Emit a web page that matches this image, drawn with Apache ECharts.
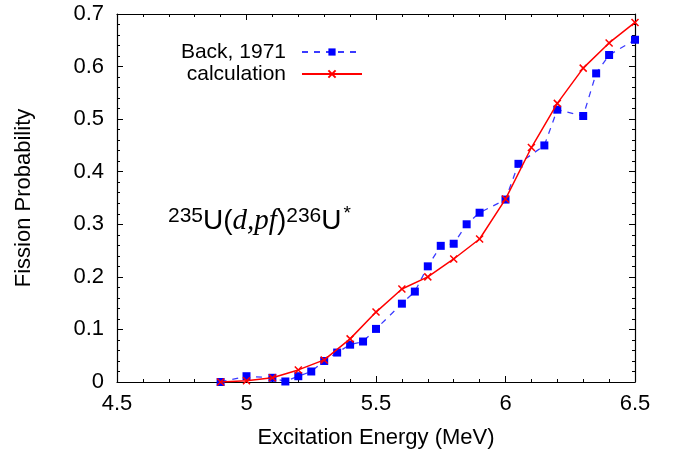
<!DOCTYPE html>
<html>
<head>
<meta charset="utf-8">
<script src="https://cdn.jsdelivr.net/npm/echarts@6/dist/echarts.min.js"></script>
<style>html,body{margin:0;padding:0;background:#fff}#c{width:678px;height:455px}</style>
</head>
<body>
<div id="c"></div>
<script>
// Back, 1971 (measured)
var backX = [4.9, 5.0, 5.1, 5.15, 5.2, 5.25, 5.3, 5.35, 5.4, 5.45, 5.5, 5.6, 5.65, 5.7, 5.75, 5.8, 5.85, 5.9, 6.0, 6.05, 6.15, 6.2, 6.3, 6.35, 6.4, 6.5];
var backY = [0.0, 0.011, 0.008, 0.001, 0.011, 0.020, 0.040, 0.056, 0.071, 0.077, 0.101, 0.149, 0.172, 0.220, 0.259, 0.263, 0.300, 0.322, 0.347, 0.415, 0.450, 0.518, 0.506, 0.587, 0.622, 0.651];
// calculation
var calcX = [4.9, 5.0, 5.1, 5.2, 5.3, 5.4, 5.5, 5.6, 5.7, 5.8, 5.9, 6.0, 6.1, 6.2, 6.3, 6.4, 6.5];
var calcY = [0.0, 0.0025, 0.008, 0.023, 0.042, 0.082, 0.133, 0.177, 0.200, 0.234, 0.272, 0.348, 0.446, 0.530, 0.597, 0.645, 0.684];

var xTicks = {min: 4.5, max: 6.5, interval: 0.5};
var yTicks = {min: 0, max: 0.7, interval: 0.1};

function pairs(xs, ys) { return xs.map(function (x, i) { return [x, ys[i]]; }); }

var FONT = 'Liberation Sans';
var chart = echarts.init(document.getElementById('c'), null, {renderer: 'canvas'});

function xAx(pos, show) {
  return {
    type: 'value', position: pos, min: xTicks.min, max: xTicks.max, interval: xTicks.interval,
    axisLine: {show: true, onZero: false, lineStyle: {color: '#000', width: 1.2}},
    axisTick: {show: true, inside: true, length: 6, lineStyle: {color: '#000'}},
    minorTick: {show: true, splitNumber: 5, length: 3, lineStyle: {color: '#000'}},
    splitLine: {show: false},
    axisLabel: {show: show, color: '#000', fontFamily: FONT, fontSize: 22, margin: 11},
    name: show ? 'Excitation Energy (MeV)' : '', nameLocation: 'middle', nameGap: 45,
    nameTextStyle: {color: '#000', fontFamily: FONT, fontSize: 22}
  };
}
function yAx(pos, show) {
  return {
    type: 'value', position: pos, min: yTicks.min, max: yTicks.max, interval: yTicks.interval,
    axisLine: {show: true, onZero: false, lineStyle: {color: '#000', width: 1.2}},
    axisTick: {show: true, inside: true, length: 6, lineStyle: {color: '#000'}},
    minorTick: {show: true, splitNumber: 5, length: 3, lineStyle: {color: '#000'}},
    splitLine: {show: false},
    axisLabel: {show: show, color: '#000', fontFamily: FONT, fontSize: 22, margin: 13},
    name: show ? 'Fission Probability' : '', nameLocation: 'middle', nameGap: 82,
    nameTextStyle: {color: '#000', fontFamily: FONT, fontSize: 22}
  };
}

chart.setOption({
  animation: false,
  backgroundColor: '#fff',
  grid: {left: 117, right: 43, top: 14, bottom: 73},
  xAxis: [xAx('bottom', true), xAx('top', false)],
  yAxis: [yAx('left', true), yAx('right', false)],
  legend: {
    orient: 'vertical', align: 'right', right: 315, top: 41, padding: 0,
    itemWidth: 60, itemHeight: 9, itemGap: 0,
    textStyle: {color: '#000', fontFamily: FONT, fontSize: 21, lineHeight: 22, padding: [0, 11, 0, 0]},
    data: ['Back, 1971', 'calculation']
  },
  graphic: [{
    type: 'text', left: 168, top: 204,
    style: {
      text: '{sup|235}{n|U(}{it|d,pf}{n|)}{sup|236}{n|U}{sup2|*}',
      rich: {
        n: {fontFamily: FONT, fontSize: 28, fill: '#000'},
        it: {fontFamily: 'Liberation Serif', fontStyle: 'italic', fontSize: 29, fill: '#000'},
        sup: {fontFamily: FONT, fontSize: 21, fill: '#000', padding: [0, 0, 11, 0]},
        sup2: {fontFamily: FONT, fontSize: 19, fill: '#000', padding: [0, 0, 16, 2]}
      }
    }
  }],
  series: [
    {
      name: 'Back, 1971', type: 'line', data: pairs(backX, backY),
      symbol: 'rect', symbolSize: 8,
      lineStyle: {color: '#3b3bff', width: 1.3, type: [6, 6]},
      itemStyle: {color: '#0000ff'},
      z: 2
    },
    {
      name: 'calculation', type: 'line', data: pairs(calcX, calcY),
      symbol: 'path://M0,0L10,10M10,0L0,10', symbolSize: 7,
      lineStyle: {color: '#ff0000', width: 1.5},
      itemStyle: {color: '#ff0000', borderColor: '#ff0000', borderWidth: 1.5},
      z: 3
    }
  ]
});
</script>
</body>
</html>
